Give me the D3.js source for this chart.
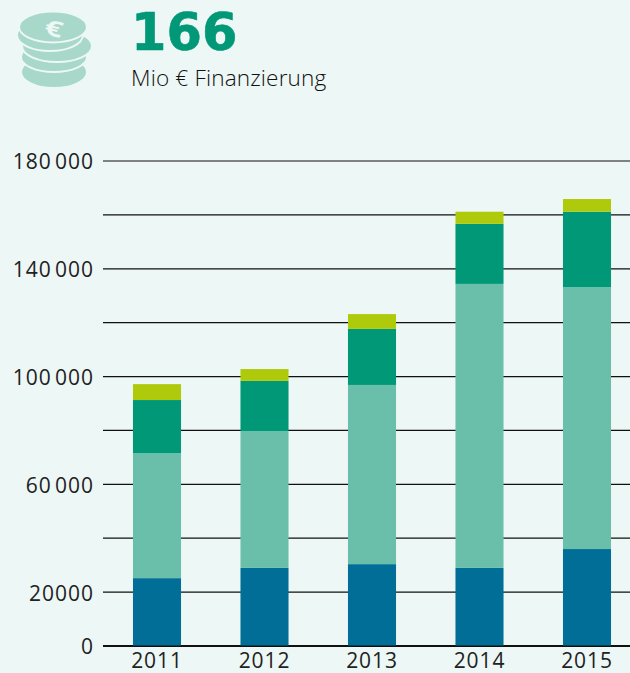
<!DOCTYPE html>
<html>
<head>
<meta charset="utf-8">
<script src="https://cdn.jsdelivr.net/npm/d3@7"></script>
<style>
  html, body { margin:0; padding:0; background:#edf7f5; }
  svg { display:block; font-family:"Open Sans", sans-serif; }
</style>
</head>
<body>
<svg id="chart" width="630" height="673"></svg>
<script>
'use strict'

let years = ['2011','2012','2013','2014','2015']
let seriesKeys = ['blue','light','green','yellow']

// stacked segment sizes
let blue   = [25000, 28800, 30200, 28800, 35800]
let light  = [46400, 50800, 66500, 105400, 97200]
let green  = [19700, 18600, 20800, 22300, 28000]
let yellow = [5900, 4400, 5500, 4500, 4700]

let seriesColors = ['#006e96','#6abfab','#009877','#afca0b']

let tickValues = [0,20000,40000,60000,80000,100000,120000,140000,160000,180000]
let tickLabels = ['0','20000','','60\u200A000','','100\u200A000','','140\u200A000','','180\u200A000']

let headline = '166'
let subline = 'Mio € Finanzierung'

let svg = d3.select('#chart')

// --------------------------------------------------------------------
// ----------------------------------------------------- SCALES -------

let xScale = d3.scaleBand()
  .domain(years)
  .range([103.25, 640.75])
  .paddingInner(0.553)
  .paddingOuter(0.2765)

let yScale = d3.scaleLinear()
  .domain([0, 180000])
  .range([645.5, 160.5])

// --------------------------------------------------------------------
// ------------------------------------------------- AXIS/GRIDS -------

let y_axis = d3.axisLeft(yScale)
  .tickValues(tickValues)
  .tickFormat((d,i) => tickLabels[i])
  .tickSize(0)
  .tickPadding(9)

let yG = svg.append('g')
  .attr('transform','translate(103,0)')
  .call(y_axis)

yG.select('.domain').remove()
yG.selectAll('text')
  .attr('font-size',21)
  .attr('font-family','"Open Sans", sans-serif')
  .attr('letter-spacing',1)
  .attr('dy','0.4em')
  .attr('fill','#222')

yG.selectAll('.tick line')
  .attr('x1',0)
  .attr('x2',527)
  .attr('stroke','#111')
  .attr('stroke-width',d => d == 0 ? 2 : 1.2)

let x_axis = d3.axisBottom(xScale).tickSize(0).tickPadding(0)

let xG = svg.append('g')
  .attr('transform','translate(0,653)')
  .call(x_axis)

xG.select('.domain').remove()
xG.selectAll('text')
  .attr('font-size',21)
  .attr('font-family','"Open Sans", sans-serif')
  .attr('letter-spacing',0.9)
  .attr('fill','#222')

// --------------------------------------------------------------------
// ----------------------------------------------- DISPLAY DATA -------

let rows = years.map((year,i) => ({
  year:year, blue:blue[i], light:light[i], green:green[i], yellow:yellow[i]
}))

let stacked = d3.stack().keys(seriesKeys)(rows)

svg.append('g').selectAll('g')
  .data(stacked)
  .enter()
  .append('g')
    .attr('fill',(d,i) => seriesColors[i])
  .selectAll('rect')
  .data(d => d)
  .enter()
  .append('rect')
    .attr('x',d => xScale(d.data.year))
    .attr('width',xScale.bandwidth())
    .attr('y',d => yScale(d[1]))
    .attr('height',d => yScale(d[0]) - yScale(d[1]))

// --------------------------------------------------------------------
// ----------------------------------------------------- HEADER -------

svg.append('text')
  .attr('x',131)
  .attr('y',50)
  .attr('font-size',51)
  .attr('font-weight',700)
  .attr('font-family','"DejaVu Sans", sans-serif')
  .attr('fill','#009877')
  .attr('stroke','#009877')
  .attr('stroke-width',0.6)
  .text(headline)

svg.append('text')
  .attr('x',131)
  .attr('y',86)
  .attr('font-size',22.6)
  .attr('font-weight',300)
  .attr('letter-spacing',0.15)
  .attr('fill','#111')
  .text(subline)

// --- coin stack icon
let bg = '#edf7f5'
let coinColor = '#a8d8ca'
let icon = svg.append('g')
let coins = [[54,72,33,16],[54,57,33,15],[57,46,35,16],[50,35,33,16],[53,27,34,15.5]]
coins.forEach(c => {
  icon.append('ellipse')
    .attr('cx',c[0]).attr('cy',c[1]).attr('rx',c[2]).attr('ry',c[3])
    .attr('fill',coinColor)
    .attr('stroke',bg).attr('stroke-width',2)
})
icon.append('text')
  .attr('text-anchor','middle')
  .attr('font-size',30)
  .attr('font-weight',700)
  .attr('fill',bg)
  .attr('transform','translate(52,36) rotate(14) scale(1.05,0.72)')
  .text('€')
</script>
</body>
</html>
